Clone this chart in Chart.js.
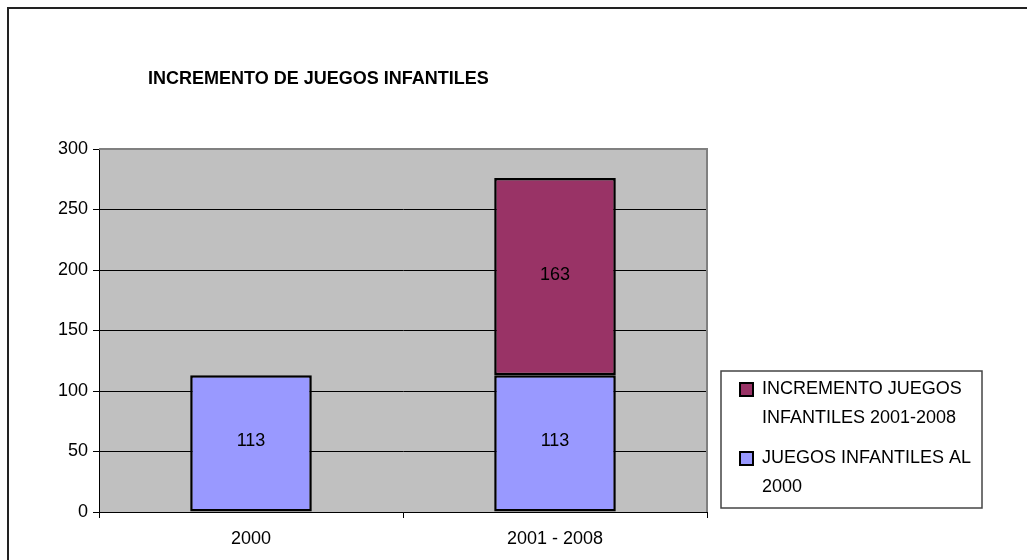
<!DOCTYPE html>
<html>
<head>
<meta charset="utf-8">
<script src="https://cdn.jsdelivr.net/npm/chart.js@4"></script>
<style>
  html, body { margin: 0; padding: 0; background: #fff; }
  #wrap { width: 1027px; height: 560px; }
</style>
</head>
<body>
<div id="wrap"><canvas id="chart" width="1027" height="560"></canvas></div>
<script>
// Data
const categories = ['2000', '2001 - 2008'];
const baseValues = [113, 113];
const increaseValues = [null, 163];
const yTicks = [0, 50, 100, 150, 200, 250, 300];
const chartTitle = 'INCREMENTO DE JUEGOS INFANTILES';
const baseLabel = 'JUEGOS INFANTILES AL 2000';
const increaseLabel = 'INCREMENTO JUEGOS INFANTILES 2001-2008';

const FONT = '"Liberation Sans", Arial, sans-serif';

// gray plot background, page frame, title
const backdrop = {
    id: 'backdrop',
    beforeDraw(chart) {
        const c = chart.ctx, a = chart.chartArea;
        c.save();
        c.fillStyle = '#c0c0c0';
        c.fillRect(a.left, a.top, a.right - a.left, a.bottom - a.top);
        // outer frame (only left and top visible)
        c.strokeStyle = '#222';
        c.lineWidth = 2;
        c.beginPath();
        c.moveTo(8, 560);
        c.lineTo(8, 8);
        c.lineTo(1027, 8);
        c.stroke();
        // title
        c.fillStyle = '#000';
        c.font = 'bold 18px ' + FONT;
        c.textBaseline = 'middle';
        c.fillText(chartTitle, 148, 79);
        c.restore();
    },
    beforeDatasetsDraw(chart) {
        const c = chart.ctx, a = chart.chartArea;
        c.save();
        c.strokeStyle = '#808080';
        c.lineWidth = 2;
        c.beginPath();
        c.moveTo(a.left, a.top);
        c.lineTo(a.right, a.top);
        c.lineTo(a.right, a.bottom);
        c.stroke();
        c.restore();
    }
};

// values in the middle of each bar
const barValues = {
    id: 'barValues',
    afterDatasetsDraw(chart) {
        const c = chart.ctx;
        c.save();
        c.font = '18px ' + FONT;
        c.fillStyle = '#000';
        c.textAlign = 'center';
        c.textBaseline = 'middle';
        chart.data.datasets.forEach((ds, i) => {
            chart.getDatasetMeta(i).data.forEach((bar, j) => {
                const v = ds.data[j];
                if (v == null) return;
                c.fillText(String(v), bar.x, (bar.y + bar.base) / 2 - 2);
            });
        });
        c.restore();
    }
};

// boxed legend with wrapped labels (reverse order, like the original)
const boxLegend = {
    id: 'boxLegend',
    afterDraw(chart) {
        const c = chart.ctx;
        const box = { x: 721, y: 371, w: 261, h: 137 };
        c.save();
        c.fillStyle = '#fff';
        c.fillRect(box.x, box.y, box.w, box.h);
        c.strokeStyle = '#444';
        c.lineWidth = 1.5;
        c.strokeRect(box.x, box.y, box.w, box.h);
        c.font = '18px ' + FONT;
        c.textBaseline = 'middle';
        const lineH = 29;
        let y = box.y + 18;
        const items = chart.data.datasets.slice().reverse();
        items.forEach(ds => {
            // wrap
            const words = ds.label.split(' ');
            const lines = [];
            let cur = '';
            words.forEach(w => {
                const t = cur ? cur + ' ' + w : w;
                if (c.measureText(t).width > 225 && cur) { lines.push(cur); cur = w; }
                else cur = t;
            });
            lines.push(cur);
            c.fillStyle = ds.backgroundColor;
            c.fillRect(740, y - 6, 13, 13);
            c.strokeStyle = '#000';
            c.lineWidth = 2;
            c.strokeRect(740, y - 6, 13, 13);
            c.fillStyle = '#000';
            lines.forEach((ln, k) => c.fillText(ln, 762, y + k * lineH));
            y += lines.length * lineH + 11;
        });
        c.restore();
    }
};

new Chart(document.getElementById('chart'), {
    type: 'bar',
    data: {
        labels: categories,
        datasets: [{
            label: baseLabel,
            data: baseValues,
            backgroundColor: '#9999ff',
            borderColor: '#000',
            borderWidth: 2.5,
            borderSkipped: false
        }, {
            label: increaseLabel,
            data: increaseValues,
            backgroundColor: '#993366',
            borderColor: '#000',
            borderWidth: 2.5,
            borderSkipped: false
        }]
    },
    options: {
        responsive: false,
        animation: false,
        barPercentage: 0.4,
        categoryPercentage: 1,
        layout: {
            padding: { top: 149, left: 0, right: 320, bottom: 0 }
        },
        plugins: {
            legend: { display: false },
            title: { display: false },
            tooltip: { enabled: false }
        },
        scales: {
            x: {
                stacked: true,
                afterFit(axis) { axis.height = 48; },
                grid: {
                    offset: true,
                    drawOnChartArea: false,
                    color: '#000',
                    tickLength: 6
                },
                border: { color: '#000', width: 1 },
                ticks: {
                    color: '#000',
                    padding: 10,
                    font: { family: FONT, size: 18 }
                }
            },
            y: {
                stacked: true,
                min: 0,
                max: 300,
                afterFit(axis) { axis.width = 99; },
                afterBuildTicks(axis) { axis.ticks = yTicks.map(v => ({ value: v })); },
                grid: {
                    color: '#000',
                    tickLength: 6
                },
                border: { color: '#000', width: 1 },
                ticks: {
                    color: '#000',
                    padding: 5,
                    font: { family: FONT, size: 18 }
                }
            }
        }
    },
    plugins: [backdrop, barValues, boxLegend]
});
</script>
</body>
</html>
